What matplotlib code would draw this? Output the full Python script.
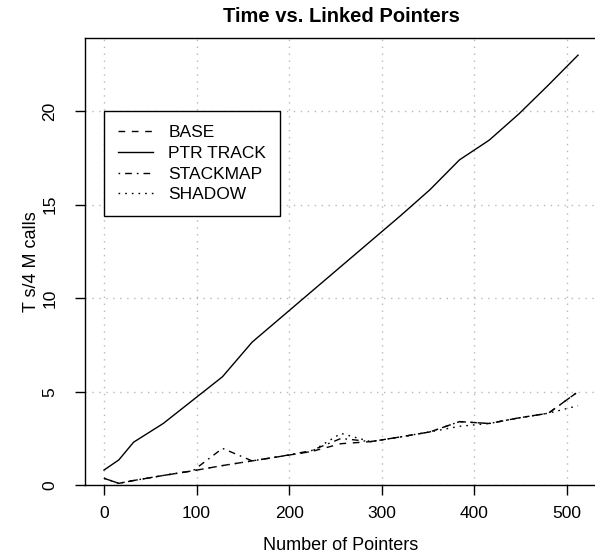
import numpy as np
import matplotlib
matplotlib.use("Agg")
import matplotlib.pyplot as plt

plt.rcParams['font.family'] = ['Liberation Sans', 'DejaVu Sans']

# number of linked pointers
pointers = [0, 16, 32, 64, 96, 128, 160, 192, 224, 256, 288, 320, 352, 384, 416, 448, 480, 512]

# seconds per 4M calls
base      = [0.37, 0.10, 0.25, 0.52, 0.77, 1.05, 1.30, 1.55, 1.80, 2.22, 2.33, 2.58, 2.85, 3.40, 3.30, 3.60, 3.85, 5.00]
ptr_track = [0.81, 1.35, 2.30, 3.30, 4.55, 5.80, 7.65, 9.00, 10.35, 11.70, 13.05, 14.40, 15.80, 17.40, 18.45, 19.85, 21.40, 23.00]
stackmap  = [0.37, 0.10, 0.25, 0.52, 0.77, 1.97, 1.30, 1.55, 1.85, 2.50, 2.33, 2.58, 2.85, 3.40, 3.30, 3.60, 3.85, 5.00]
shadow    = [0.37, 0.10, 0.25, 0.52, 0.77, 1.05, 1.30, 1.55, 1.80, 2.77, 2.33, 2.58, 2.85, 3.15, 3.30, 3.60, 3.85, 4.25]

xticks = [0, 100, 200, 300, 400, 500]
yticks = [0, 5, 10, 15, 20]

fig = plt.figure(figsize=(5.95, 5.57), dpi=100)
# plot region runs a bit past the right edge, like the original
ax = fig.add_axes([85/595, (557-485.2)/557, 512/595, (485.2-38.3)/557])

# dotted grid underneath
for xt in xticks:
    ax.axvline(xt, color='#b8b8b8', lw=1.0, linestyle=(0, (1, 4)), zorder=0)
for yt in yticks:
    ax.axhline(yt, color='#b8b8b8', lw=1.0, linestyle=(0, (1, 4)), zorder=0)

lw = 1.0
ax.plot(pointers, base, color='k', lw=lw, linestyle=(0, (4.8, 4.8)), label='BASE')
ax.plot(pointers, ptr_track, color='k', lw=lw, linestyle='-', label='PTR TRACK')
ax.plot(pointers, stackmap, color='k', lw=lw, linestyle=(0, (1.2, 3.6, 4.8, 3.6)), label='STACKMAP')
ax.plot(pointers, shadow, color='k', lw=lw, linestyle=(0, (1.2, 3.6)), label='SHADOW')

ax.set_xlim(-20.48, 532.48)
ax.set_ylim(0, 23.9)
ax.set_xticks(xticks)
ax.set_yticks(yticks)
ax.tick_params(direction='out', length=7.5, width=1.0, color='k', labelsize=12.5)
ax.tick_params(axis='x', pad=7.5)
ax.tick_params(axis='y', pad=12.5)
for lab in ax.get_yticklabels():
    lab.set_rotation(90)
    lab.set_va('center')
for sp in ax.spines.values():
    sp.set_linewidth(1.0)
    sp.set_color('k')

leg = ax.legend(loc='upper left', bbox_to_anchor=(0, 20), bbox_transform=ax.transData,
                borderaxespad=0, fancybox=False, edgecolor='k', framealpha=1,
                fontsize=12.5, handlelength=2.0, handletextpad=0.9,
                labelspacing=0.32, borderpad=0.8)
leg.get_frame().set_linewidth(1.0)

ax.set_title('Time vs. Linked Pointers', fontsize=14.5, fontweight='bold', pad=12)
fig.text((85 + 597) / 2 / 595, 1 - 545 / 557, 'Number of Pointers', fontsize=13,
         ha='center', va='center')
fig.text(31 / 595, 1 - (38.3 + 485.2) / 2 / 557, 'T s/4 M calls', fontsize=13,
         ha='center', va='center', rotation=90)

fig.savefig('out.png', dpi=100)
